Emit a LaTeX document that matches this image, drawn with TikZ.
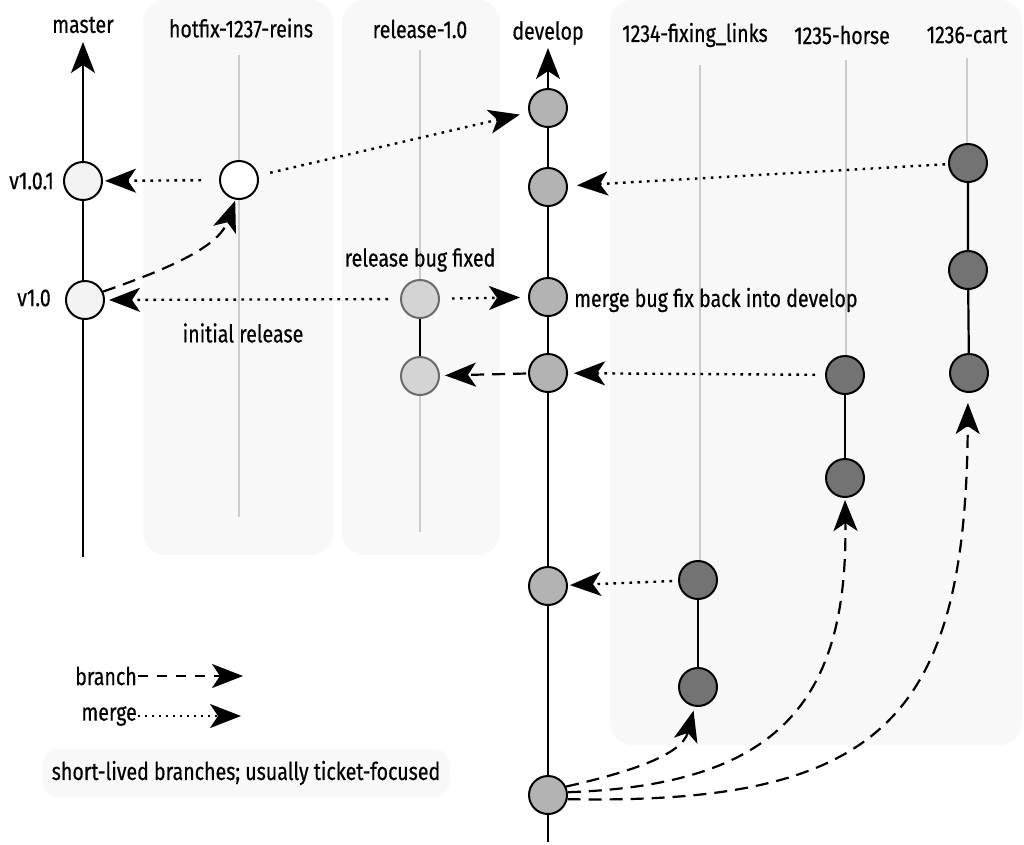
\documentclass[tikz,border=0pt]{standalone}
\usepackage{fontspec}
\setmainfont[FakeStretch=0.8, FakeBold=0.5]{Fira Sans}
\usetikzlibrary{arrows.meta}
\definecolor{panel}{HTML}{F8F8F8}
\definecolor{glight}{HTML}{CCCCCC}
\definecolor{mfill}{HTML}{F3F3F3}
\definecolor{rfill}{HTML}{D4D4D4}
\definecolor{rdraw}{HTML}{6B6B6B}
\definecolor{dfill}{HTML}{B3B3B3}
\definecolor{ffill}{HTML}{737373}
\begin{document}
\begin{tikzpicture}[x=1pt,y=-1pt,
  lbl/.style={font=\fontsize{24.5}{28}\selectfont, inner sep=1pt},
  commit/.style={circle, draw=black, line width=2pt, minimum size=38pt, inner sep=0pt},
  mnode/.style={commit, fill=mfill},
  hnode/.style={commit, fill=white},
  rnode/.style={commit, fill=rfill, draw=rdraw},
  dnode/.style={commit, fill=dfill},
  fnode/.style={commit, fill=ffill},
  tip/.style={-{Stealth[length=31pt,width=24pt,inset=8pt]}},
  trunk/.style={line width=2.2pt, black},
  ghost/.style={line width=2.5pt, glight},
  merge/.style={tip, line width=2.4pt, dash pattern=on 2.6pt off 5.4pt},
  branch/.style={tip, line width=2.2pt, dash pattern=on 13pt off 8pt},
  panelbox/.style={fill=panel, draw=none, rounded corners=22pt}
]
\useasboundingbox (0,0) rectangle (1024,844);
% panels
\fill[panelbox] (143,0) rectangle (333,555);
\fill[panelbox] (342,0) rectangle (500,555);
\fill[panelbox] (610,0) rectangle (1022,745);
% gray branch lines
\draw[ghost] (239,55) -- (239,517);
\draw[ghost] (420,50) -- (420,532);
\draw[ghost] (700,65) -- (700,565);
\draw[ghost] (846,60) -- (846,360);
\draw[ghost] (967,58) -- (967,148);
% branch labels
\node[lbl] (lmaster) at (83,25) {master};
\node[lbl] (lhotfix) at (241,28) {hotfix-1237-reins};
\node[lbl] (lrelease) at (420,29) {release-1.0};
\node[lbl] (ldevelop) at (548,33) {develop};
\node[lbl] (l1234) at (695,35) {1234-fixing\_links};
\node[lbl] (l1235) at (842,35) {1235-horse};
\node[lbl] (l1236) at (967,35) {1236-cart};
% trunks
\coordinate (mtop) at (83,42);
\coordinate (mbot) at (83,557);
\coordinate (dtop) at (548,48);
\coordinate (dbot) at (548,842);
\draw[trunk, tip] (mbot) -- (mtop);
\draw[trunk, tip] (dbot) -- (dtop);
% commits
\node[mnode] (v101) at (83,181) {};
\node[mnode] (v10) at (85,300) {};
\node[hnode] (h1) at (239,180) {};
\node[rnode] (r1) at (420,299) {};
\node[rnode] (r2) at (420,376) {};
\node[dnode] (d1) at (548,108) {};
\node[dnode] (d2) at (548,187) {};
\node[dnode] (d3) at (548,297) {};
\node[dnode] (d4) at (548,373) {};
\node[dnode] (d5) at (548,586) {};
\node[dnode] (d6) at (548,795) {};
\node[fnode] (a1) at (698,580) {};
\node[fnode] (a2) at (698,687) {};
\node[fnode] (b1) at (845,375) {};
\node[fnode] (b2) at (845,478) {};
\node[fnode] (c1) at (968,163) {};
\node[fnode] (c2) at (968,270) {};
\node[fnode] (c3) at (969,373) {};
% segments
\draw[trunk] (r1) -- (r2);
\draw[trunk] (a1) -- (a2);
\draw[trunk] (b1) -- (b2);
\draw[trunk] (c1) -- (c2) -- (c3);
% merges
\draw[merge, shorten <=18pt, shorten >=2pt] (h1) -- (v101);
\draw[merge, shorten <=12pt, shorten >=9pt] (h1) -- (d1);
\draw[merge, shorten <=3pt, shorten >=9pt] (c1) -- (d2);
\draw[merge, shorten <=12pt, shorten >=4pt] (r1) -- (v10);
\draw[merge, shorten <=12pt, shorten >=8pt] (r1) -- (d3);
\draw[merge, shorten <=10pt, shorten >=6pt] (b1) -- (d4);
\draw[merge, shorten <=6pt, shorten >=2pt] (a1) -- (d5);
% branches
\draw[branch, shorten >=1pt] (v10.25) .. controls (165,270) and (218,248) .. (h1.-100);
\draw[branch, shorten <=2pt, shorten >=5pt] (d4) -- (r2);
\draw[branch, shorten >=4pt] (d6.25) .. controls (630,772) and (682,755) .. (a2.-100);
\draw[branch, shorten >=2pt] (d6.8) .. controls (775,785) and (848,705) .. (b2.south);
\draw[branch, shorten >=10pt] (d6.-12) .. controls (880,805) and (966,720) .. (c3.-93);
% annotations
\node[lbl, anchor=east] (lv101) at (55,181) {v1.0.1};
\node[lbl, anchor=east] (lv10) at (52,298) {v1.0};
\node[lbl] (lfixed) at (420,260) {release bug fixed};
\node[lbl] (linit) at (243,333) {initial release};
\node[lbl, anchor=west] (lmergeback) at (573,300) {merge bug fix back into develop};
% legend
\node[lbl, anchor=east] (legb) at (138,676) {branch};
\coordinate (legbe) at (243,676);
\draw[branch, line width=2pt, dash pattern=on 10pt off 9pt] (legb.east) -- (legbe);
\node[lbl, anchor=east] (legm) at (138,716) {merge};
\coordinate (legme) at (241,716);
\draw[tip, line width=2pt, dash pattern=on 2pt off 5pt] (legm.east) -- (legme);
\node[lbl, fill=panel, rounded corners=16pt, minimum width=407pt, minimum height=49pt] (note) at (246,773) {short-lived branches; usually ticket-focused};
\end{tikzpicture}
\end{document}
